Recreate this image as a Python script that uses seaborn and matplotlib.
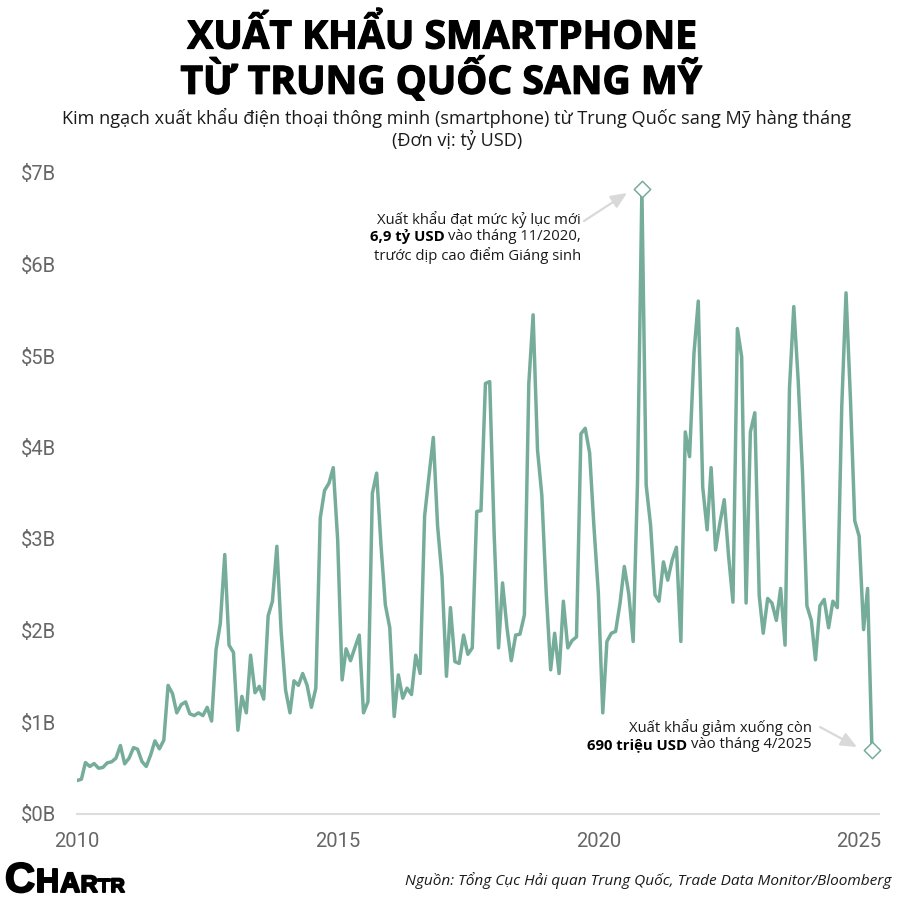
import pandas as pd
import matplotlib.pyplot as plt
import matplotlib.patheffects as pe
import seaborn as sns

# monthly exports, billion USD, Jan 2010 - Apr 2025
y2010 = [0.36, 0.375, 0.557, 0.514, 0.546, 0.495, 0.503, 0.554, 0.565, 0.605, 0.743, 0.543]
y2011 = [0.605, 0.72, 0.703, 0.568, 0.514, 0.64, 0.794, 0.707, 0.80, 1.40, 1.31, 1.10]
y2012 = [1.19, 1.22, 1.09, 1.07, 1.10, 1.07, 1.16, 1.01, 1.79, 2.08, 2.83, 1.84]
y2013 = [1.76, 0.91, 1.28, 1.10, 1.73, 1.32, 1.39, 1.25, 2.16, 2.32, 2.92, 1.99]
y2014 = [1.35, 1.10, 1.45, 1.40, 1.53, 1.40, 1.16, 1.37, 3.23, 3.53, 3.61, 3.78]
y2015 = [2.99, 1.46, 1.80, 1.67, 1.81, 1.95, 1.10, 1.22, 3.50, 3.72, 2.92, 2.28]
y2016 = [2.03, 1.06, 1.515, 1.26, 1.37, 1.30, 1.73, 1.53, 3.25, 3.68, 4.11, 3.14]
y2017 = [2.59, 1.50, 2.25, 1.66, 1.64, 1.95, 1.74, 1.81, 3.30, 3.31, 4.70, 4.72]
y2018 = [3.06, 1.81, 2.52, 2.03, 1.67, 1.95, 1.96, 2.17, 4.70, 5.45, 3.97, 3.48]
y2019 = [2.41, 1.57, 1.97, 1.53, 2.32, 1.81, 1.89, 1.93, 4.15, 4.21, 3.94, 3.14]
y2020 = [2.41, 1.10, 1.88, 1.97, 1.99, 2.30, 2.70, 2.40, 1.88, 3.60, 6.82, 3.59]
y2021 = [3.15, 2.39, 2.32, 2.75, 2.55, 2.77, 2.91, 1.88, 4.17, 3.90, 5.03, 5.60]
y2022 = [3.57, 3.10, 3.78, 2.88, 3.17, 3.43, 2.82, 2.31, 5.30, 4.99, 2.30, 4.17]
y2023 = [4.38, 2.38, 1.97, 2.35, 2.30, 2.11, 2.46, 1.84, 4.65, 5.54, 4.73, 3.73]
y2024 = [2.27, 2.11, 1.68, 2.27, 2.34, 2.03, 2.32, 2.25, 4.44, 5.69, 4.53, 3.20]
y2025 = [3.03, 2.01, 2.46, 0.69]

years = [y2010, y2011, y2012, y2013, y2014, y2015, y2016, y2017,
         y2018, y2019, y2020, y2021, y2022, y2023, y2024, y2025]
values = [v for yr in years for v in yr]

tick_years = [2010, 2015, 2020, 2025]
y_ticks = [0, 1, 2, 3, 4, 5, 6, 7]
highlights = ['2020-11-01', '2025-04-01']

GREEN = '#76ad9a'
GREY = '#666666'
W, H = 900, 901

df = pd.DataFrame({'date': pd.date_range('2010-01-01', periods=len(values), freq='MS'),
                   'value': values})

sns.set_theme(style='white')
plt.rcParams['font.family'] = ['Open Sans', 'DejaVu Sans']

fig = plt.figure(figsize=(W / 100, H / 100), dpi=100, facecolor='white')
ax = fig.add_axes([77 / W, 1 - 813.5 / H, (879 - 77) / W, (813.5 - 173) * (7.3 / 7) / H])

sns.lineplot(data=df, x='date', y='value', color=GREEN, linewidth=2.5, ax=ax)

pts = df[df['date'].isin(pd.to_datetime(highlights))]
sns.scatterplot(data=pts, x='date', y='value', marker='D', s=70, facecolor='white',
                edgecolor=GREEN, linewidth=1.1, clip_on=False, zorder=5, ax=ax)

ax.set_xlim(pd.Timestamp('2010-01-01'), pd.Timestamp('2025-05-20'))
ax.set_ylim(0, 7.3)
ax.set_xlabel('')
ax.set_ylabel('')
ax.set_xticks([pd.Timestamp(f'{y}-01-01') for y in tick_years])
ax.set_xticklabels([str(y) for y in tick_years])
ax.set_yticks(y_ticks)
ax.set_yticklabels([f'${v}B' for v in y_ticks])
ax.tick_params(axis='x', length=6, width=1, color='#dddddd', labelsize=14.5, labelcolor=GREY, pad=7)
ax.tick_params(axis='y', length=0, labelsize=14.5, labelcolor=GREY, pad=15)
for lab in ax.get_xticklabels() + ax.get_yticklabels():
    lab.set_family('Roboto')
for s in ['top', 'left', 'right']:
    ax.spines[s].set_visible(False)
ax.spines['bottom'].set_color('#dddddd')
ax.spines['bottom'].set_linewidth(1.5)
ax.set_facecolor('none')


def px(x, y):
    return x / W, 1 - y / H


def put(x, y, s, **kw):
    return fig.text(*px(x, y), s, va=kw.pop('va', 'center'), color=kw.pop('color', 'black'), **kw)


def mixed_right(x, y, bold, rest, size):
    # bold part followed by regular part, right aligned on x
    t = put(x, y, rest, ha='right', fontsize=size, color='#1a1a1a')
    box = t.get_window_extent(fig.canvas.get_renderer())
    put(box.x0 - 4, y, bold, ha='right', fontsize=size, fontweight='bold')


# title block
heavy = [pe.withStroke(linewidth=0.9, foreground='black')]
put(442, 37, 'XUẤT KHẨU SMARTPHONE', ha='center', fontsize=28.1, fontweight='bold', path_effects=heavy)
put(441, 80, 'TỪ TRUNG QUỐC SANG MỸ', ha='center', fontsize=28.1, fontweight='bold', path_effects=heavy)
put(456, 118, 'Kim ngạch xuất khẩu điện thoại thông minh (smartphone) từ Trung Quốc sang Mỹ hàng tháng',
    ha='center', fontsize=13.1, color='#1a1a1a')
put(457, 140, '(Đơn vị: tỷ USD)', ha='center', fontsize=13.1, color='#1a1a1a')

# callouts
put(581, 220, 'Xuất khẩu đạt mức kỷ lục mới', ha='right', fontsize=10.7, color='#1a1a1a')
mixed_right(581, 237, '6,9 tỷ USD', 'vào tháng 11/2020,', 10.7)
put(581, 255, 'trước dịp cao điểm Giáng sinh', ha='right', fontsize=10.7, color='#1a1a1a')
put(812, 728, 'Xuất khẩu giảm xuống còn', ha='right', fontsize=10.7, color='#1a1a1a')
mixed_right(812, 745, '690 triệu USD', 'vào tháng 4/2025', 10.7)

arrow = dict(arrowstyle='-|>,head_width=0.35,head_length=0.8', color='#d9d9d9', lw=1.6, shrinkA=0, shrinkB=0)
ax.annotate('', xy=px(627, 193), xytext=px(584, 221), xycoords='figure fraction',
            textcoords='figure fraction', arrowprops=arrow)
ax.annotate('', xy=px(857, 747), xytext=px(820, 727), xycoords='figure fraction',
            textcoords='figure fraction', arrowprops=arrow)

# source and logo
put(891, 881, 'Nguồn: Tổng Cục Hải quan Trung Quốc, Trade Data Monitor/Bloomberg', ha='right',
    fontsize=11.1, style='italic', color='#1a1a1a')

# logo letters share a baseline and shrink to the right
logo_x = 5
logo_heavy = [pe.withStroke(linewidth=1.4, foreground='black')]
for letter, size in zip('CHARTR', [30, 24, 20, 17, 14, 14]):
    t = put(logo_x, 892, letter, va='baseline', fontsize=size, fontweight='bold',
            family='Liberation Sans', path_effects=logo_heavy)
    logo_x = t.get_window_extent(fig.canvas.get_renderer()).x1 + 0.5

fig.savefig('out.png', dpi=100, facecolor='white')
plt.close(fig)
